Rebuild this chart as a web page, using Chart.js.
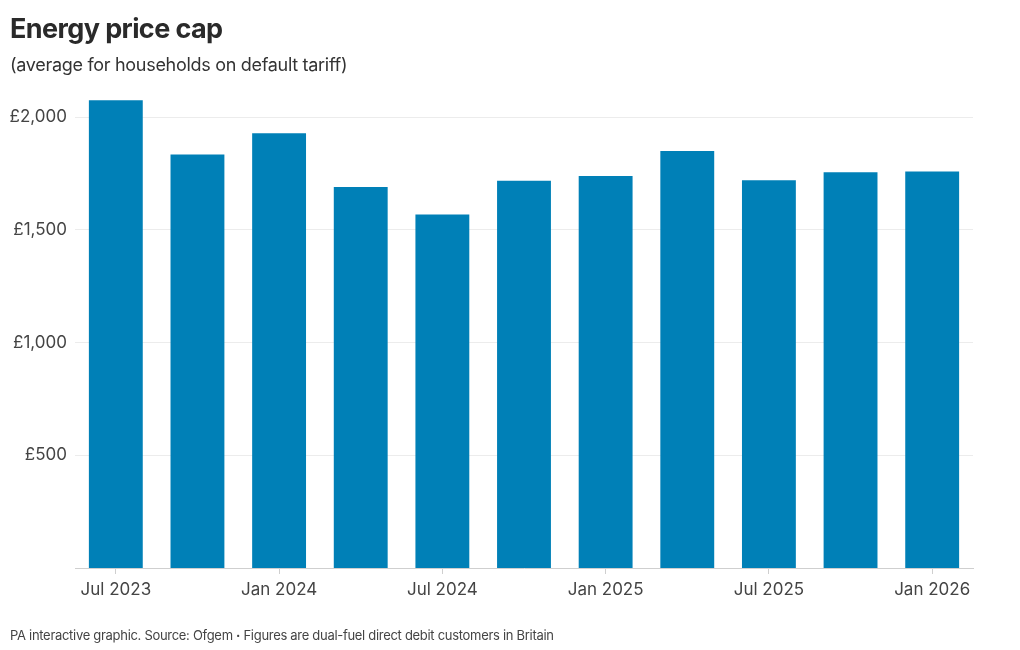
<!DOCTYPE html>
<html>
<head>
<meta charset="utf-8">
<script src="https://cdn.jsdelivr.net/npm/chart.js@4"></script>
<style>
    body { margin: 0; background: #fff; font-family: Inter, "Noto Sans", sans-serif; }
    #wrap { position: relative; width: 1020px; height: 650px; }
    #title { position: absolute; left: 10px; top: 12px; font-size: 27px; font-weight: 700; color: #2a2a2a; letter-spacing: -0.6px; }
    #subtitle { position: absolute; left: 10px; top: 54px; font-size: 18px; color: #333; letter-spacing: -0.3px; }
    #footer { position: absolute; left: 10px; top: 627px; font-size: 13px; color: #444; letter-spacing: -0.3px; }
    #chart-box { position: absolute; left: 0; top: 0; width: 1020px; height: 650px; }
    .dot { font-weight: 700; }
</style>
</head>
<body>
<div id="wrap">
    <div id="chart-box"><canvas id="cap-chart" width="1020" height="650"></canvas></div>
    <div id="title">Energy price cap</div>
    <div id="subtitle">(average for households on default tariff)</div>
    <div id="footer">PA interactive graphic. Source: Ofgem <span class="dot">·</span> Figures are dual-fuel direct debit customers in Britain</div>
</div>
<script>
const periods = ['Jul 2023', 'Oct 2023', 'Jan 2024', 'Apr 2024', 'Jul 2024', 'Oct 2024',
                 'Jan 2025', 'Apr 2025', 'Jul 2025', 'Oct 2025', 'Jan 2026'];
const capValues = [2074, 1834, 1928, 1690, 1568, 1717, 1738, 1849, 1720, 1755, 1758];
const yTicks = [500, 1000, 1500, 2000];

const ctx = document.getElementById('cap-chart').getContext('2d');
new Chart(ctx, {
    type: 'bar',
    data: {
        labels: periods,
        datasets: [{
            data: capValues,
            backgroundColor: '#0080b7',
            categoryPercentage: 1,
            barPercentage: 0.66
        }]
    },
    options: {
        responsive: false,
        animation: false,
        devicePixelRatio: 1,
        layout: { padding: { left: 0, right: 47, top: 99, bottom: 42 } },
        plugins: { legend: { display: false }, tooltip: { enabled: false } },
        scales: {
            x: {
                grid: {
                    offset: false,
                    drawOnChartArea: false,
                    tickLength: 6,
                    color: c => c.index % 2 === 0 ? '#cfcfcf' : 'rgba(0,0,0,0)'
                },
                border: { color: '#cfcfcf' },
                ticks: {
                    autoSkip: false,
                    maxRotation: 0,
                    padding: 6,
                    color: '#444',
                    font: { family: 'Inter', size: 17 },
                    callback: (v, i) => i % 2 === 0 ? periods[i] : ''
                },
                afterFit: scale => { scale.height = 40; }
            },
            y: {
                min: 0,
                max: 2080,
                border: { display: false },
                grid: { drawTicks: false, color: '#ececec' },
                ticks: {
                    padding: 8,
                    color: '#444',
                    font: { family: 'Inter', size: 17 },
                    callback: v => '£' + v.toLocaleString('en-GB')
                },
                afterBuildTicks: scale => { scale.ticks = yTicks.map(v => ({ value: v })); },
                afterFit: scale => { scale.width = 75; }
            }
        }
    }
});
</script>
</body>
</html>
